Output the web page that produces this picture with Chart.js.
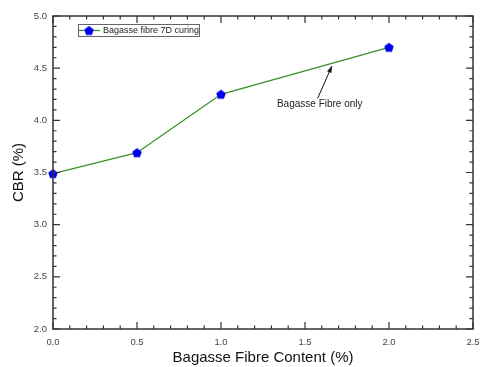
<!DOCTYPE html>
<html><head><meta charset="utf-8">
<script src="https://cdn.jsdelivr.net/npm/chart.js@4/dist/chart.umd.min.js"></script>
<style>html,body{margin:0;padding:0;background:#fff}#wrap{width:481px;height:367px}</style>
</head><body><div id="wrap"><canvas id="c" width="481" height="367"></canvas></div>
<script>
const fibreContent = [0, 0.5, 1.0, 2.0];
const cbrValues = [3.49, 3.69, 4.25, 4.70];
const seriesLabel = 'Bagasse fibre 7D curing';
const xTickValues = [0.0, 0.5, 1.0, 1.5, 2.0, 2.5];
const yTickValues = [2.0, 2.5, 3.0, 3.5, 4.0, 4.5, 5.0];
const annotationText = 'Bagasse Fibre only';

function pentagon(r, color) {
  const cv = document.createElement('canvas');
  const s = Math.ceil(r * 2 + 2);
  cv.width = s; cv.height = s;
  const g = cv.getContext('2d');
  g.fillStyle = color;
  g.beginPath();
  for (let i = 0; i < 5; i++) {
    const a = -Math.PI / 2 + i * 2 * Math.PI / 5;
    const px = s / 2 + r * Math.cos(a), py = s / 2 + r * Math.sin(a) + 0.5;
    i ? g.lineTo(px, py) : g.moveTo(px, py);
  }
  g.closePath(); g.fill();
  return cv;
}
const marker = pentagon(5, '#0000ee');
const axisColor = '#333';

const framePlugin = {
  id: 'frame',
  afterDatasetsDraw(chart) {
    const { ctx, chartArea: a, scales: { x, y } } = chart;
    ctx.save();
    ctx.strokeStyle = axisColor;
    ctx.lineWidth = 1.5;
    ctx.strokeRect(a.left, a.top, a.right - a.left, a.bottom - a.top);
    ctx.lineWidth = 1.2;
    ctx.beginPath();
    for (let i = 0; i <= 25; i++) {
      const v = i * 0.1;
      const px = x.getPixelForValue(v);
      const len = (i % 5 === 0) ? 7 : 3.5;
      ctx.moveTo(px, a.bottom); ctx.lineTo(px, a.bottom - len);
      ctx.moveTo(px, a.top); ctx.lineTo(px, a.top + len);
    }
    for (let i = 20; i <= 50; i++) {
      const v = i * 0.1;
      const py = y.getPixelForValue(v);
      const len = (i % 5 === 0) ? 7 : 3.5;
      ctx.moveTo(a.left, py); ctx.lineTo(a.left + len, py);
      ctx.moveTo(a.right, py); ctx.lineTo(a.right - len, py);
    }
    ctx.stroke();

    // legend
    const lx = a.left + 25, ly = a.top + 8, lw = 121, lh = 12;
    ctx.fillStyle = '#fff';
    ctx.fillRect(lx, ly, lw, lh);
    ctx.strokeStyle = '#666'; ctx.lineWidth = 1;
    ctx.strokeRect(lx + 0.5, ly + 0.5, lw, lh);
    ctx.strokeStyle = '#3a8f2a'; ctx.lineWidth = 1.2;
    ctx.beginPath(); ctx.moveTo(lx + 1, ly + 6.5); ctx.lineTo(lx + 22, ly + 6.5); ctx.stroke();
    ctx.drawImage(marker, lx + 11 - marker.width / 2, ly + 6.5 - marker.height / 2);
    ctx.fillStyle = '#222';
    ctx.font = '9px "Liberation Sans", Arial, sans-serif';
    ctx.textBaseline = 'middle'; ctx.textAlign = 'left';
    ctx.fillText(seriesLabel, lx + 25, ly + 7);

    // annotation
    const tx = x.getPixelForValue(1.333), ty = y.getPixelForValue(4.15);
    ctx.font = '10px "Liberation Sans", Arial, sans-serif';
    ctx.fillStyle = '#222';
    ctx.textAlign = 'left';
    ctx.fillText(annotationText, tx, ty);
    const x0 = x.getPixelForValue(1.575), y0 = y.getPixelForValue(4.21);
    const x1 = x.getPixelForValue(1.66), y1 = y.getPixelForValue(4.52);
    ctx.strokeStyle = '#111'; ctx.lineWidth = 1;
    ctx.beginPath(); ctx.moveTo(x0, y0); ctx.lineTo(x1, y1); ctx.stroke();
    const ang = Math.atan2(y1 - y0, x1 - x0);
    ctx.fillStyle = '#111';
    ctx.beginPath();
    ctx.moveTo(x1, y1);
    ctx.lineTo(x1 - 7 * Math.cos(ang - 0.35), y1 - 7 * Math.sin(ang - 0.35));
    ctx.lineTo(x1 - 7 * Math.cos(ang + 0.35), y1 - 7 * Math.sin(ang + 0.35));
    ctx.closePath(); ctx.fill();
    ctx.restore();
  }
};

new Chart(document.getElementById('c'), {
  type: 'scatter',
  data: {
    datasets: [{
      label: seriesLabel,
      data: fibreContent.map((v, i) => ({ x: v, y: cbrValues[i] })),
      showLine: true,
      borderColor: '#3a8f2a',
      borderWidth: 1.3,
      pointStyle: marker,
      pointRadius: 5,
      clip: false
    }]
  },
  options: {
    responsive: false,
    animation: false,
    devicePixelRatio: 1,
    layout: { autoPadding: false, padding: { top: 16, right: 8, left: 0, bottom: 0 } },
    plugins: { legend: { display: false }, tooltip: { enabled: false } },
    scales: {
      x: {
        type: 'linear', min: 0, max: 2.5,
        afterBuildTicks(s) { s.ticks = xTickValues.map(v => ({ value: v })); },
        afterFit(s) { s.height = 38; s.paddingLeft = 0; s.paddingRight = 0; },
        grid: { display: false, drawTicks: false },
        border: { display: false },
        ticks: { padding: 8, color: '#444', font: { size: 9.5, family: '"Liberation Sans", Arial' }, callback: v => v.toFixed(1), maxRotation: 0 },
        title: { display: true, text: 'Bagasse Fibre Content (%)', color: '#111', font: { size: 15, family: '"Liberation Sans", Arial' }, padding: { top: 0, bottom: 0 } }
      },
      y: {
        type: 'linear', min: 2, max: 5,
        afterBuildTicks(s) { s.ticks = yTickValues.map(v => ({ value: v })); },
        afterFit(s) { s.width = 53; s.paddingTop = 0; s.paddingBottom = 0; },
        grid: { display: false, drawTicks: false },
        border: { display: false },
        ticks: { padding: 6, color: '#444', font: { size: 9.5, family: '"Liberation Sans", Arial' }, callback: v => v.toFixed(1) },
        title: { display: true, text: 'CBR (%)', color: '#111', font: { size: 15, family: '"Liberation Sans", Arial' }, padding: { top: 10, bottom: 0 } }
      }
    }
  },
  plugins: [framePlugin]
});
</script>
</body></html>
